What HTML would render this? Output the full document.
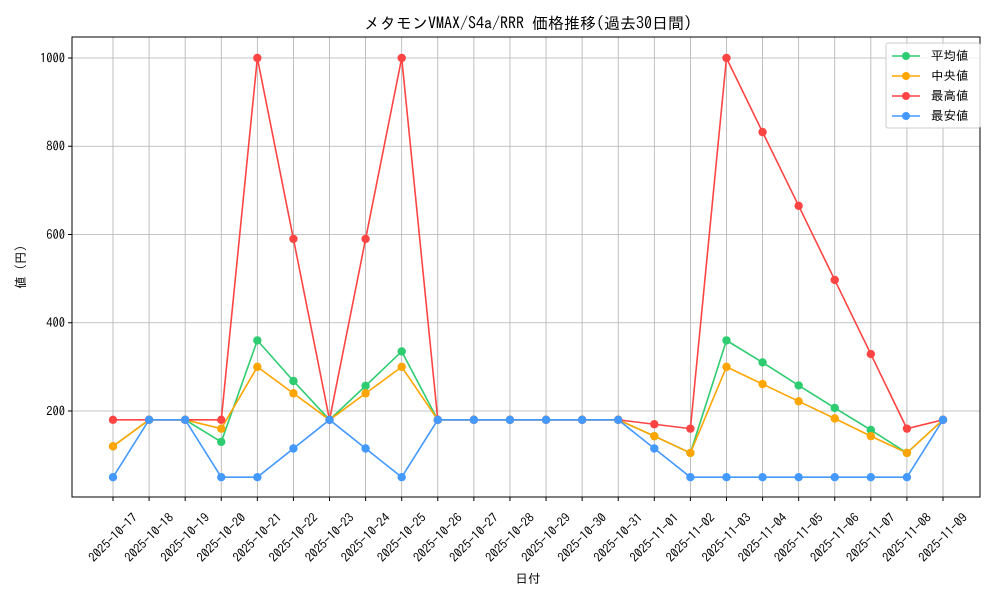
<!DOCTYPE html>
<html><head><meta charset="utf-8"><style>
html,body{margin:0;padding:0;background:#fff}
svg{display:block;font-family:"IPAGothic","Noto Sans CJK JP",monospace}
</style></head><body>
<svg id="s" width="1000" height="600" xmlns="http://www.w3.org/2000/svg">
<rect width="1000" height="600" fill="#fff"/>
<g id="grid"></g>
<rect x="72" y="37" width="908" height="460" fill="none" stroke="#000" stroke-width="1"/>
<g id="ticks" font-size="12.5" fill="#000"></g>
<g id="series"></g>
<text x="528" y="29" font-size="16" text-anchor="middle">メタモンVMAX/S4a/RRR 価格推移(過去30日間)</text>
<text x="528" y="583" font-size="12.5" text-anchor="middle">日付</text>
<text transform="translate(25,267) rotate(-90)" font-size="12.5" text-anchor="middle">値 (円)</text>
<g font-size="12.5">
<rect x="886" y="43" width="94" height="85" fill="#fff" fill-opacity="0.8" stroke="#ccc" rx="2"/>
<line x1="892" y1="56" x2="920" y2="56" stroke="#2ecc71" stroke-width="1.5"/><circle cx="906" cy="56" r="4" fill="#2ecc71"/><text x="931" y="60">平均値</text>
<line x1="892" y1="76" x2="920" y2="76" stroke="#ffa500" stroke-width="1.5"/><circle cx="906" cy="76" r="4" fill="#ffa500"/><text x="931" y="80"> 中央値</text>
<line x1="892" y1="96" x2="920" y2="96" stroke="#ff4444" stroke-width="1.5"/><circle cx="906" cy="96" r="4" fill="#ff4444"/><text x="931" y="100">最高値</text>
<line x1="892" y1="116" x2="920" y2="116" stroke="#4499ff" stroke-width="1.5"/><circle cx="906" cy="116" r="4" fill="#4499ff"/><text x="931" y="120">最安値</text>
</g>
</svg>
<script>
const NS="http://www.w3.org/2000/svg";
const X=i=>113+i*(830/23), Y=v=>499.25-v*0.44125;
const dates=[];
for(let d=17;d<=31;d++)dates.push("2025-10-"+d);
for(let d=1;d<=9;d++)dates.push("2025-11-0"+d);
const g=document.getElementById("grid"),t=document.getElementById("ticks"),s=document.getElementById("series");
function el(p,n,a,txt){const e=document.createElementNS(NS,n);for(const k in a)e.setAttribute(k,a[k]);if(txt)e.textContent=txt;p.appendChild(e);return e;}
dates.forEach((d,i)=>{const x=X(i);
el(g,"line",{x1:x,x2:x,y1:37,y2:497,stroke:"#b0b0b0","stroke-width":0.8});
el(t,"line",{x1:x,x2:x,y1:497,y2:501,stroke:"#000"});
el(t,"text",{transform:`translate(${x},${537.5}) rotate(-45)`,"text-anchor":"middle",y:4.3},d);});
[200,400,600,800,1000].forEach(v=>{const y=Y(v);
el(g,"line",{x1:72,x2:980,y1:y,y2:y,stroke:"#b0b0b0","stroke-width":0.8});
el(t,"line",{x1:68,x2:72,y1:y,y2:y,stroke:"#000"});
el(t,"text",{x:65,y:y+4.3,"text-anchor":"end"},v);});
const F=180;
const data=[
["#2ecc71",[120,F,F,130,360,268,F,257,335,F,F,F,F,F,F,143,105,360,310,258,207,157,105,F]],
["#ffa500",[120,F,F,160,300,240,F,240,300,F,F,F,F,F,F,143,105,300,261,222,183,143,105,F]],
["#ff4444",[F,F,F,F,1000,590,F,590,1000,F,F,F,F,F,F,170,160,1000,832,665,497,329,160,F]],
["#4499ff",[50,F,F,50,50,115,F,115,50,F,F,F,F,F,F,115,50,50,50,50,50,50,50,F]]];
data.forEach(([c,v])=>{
el(s,"polyline",{points:v.map((y,i)=>X(i)+","+Y(y)).join(" "),fill:"none",stroke:c,"stroke-width":1.6});
v.forEach((y,i)=>el(s,"circle",{cx:X(i),cy:Y(y),r:4.2,fill:c}));});
</script>
</body></html>
